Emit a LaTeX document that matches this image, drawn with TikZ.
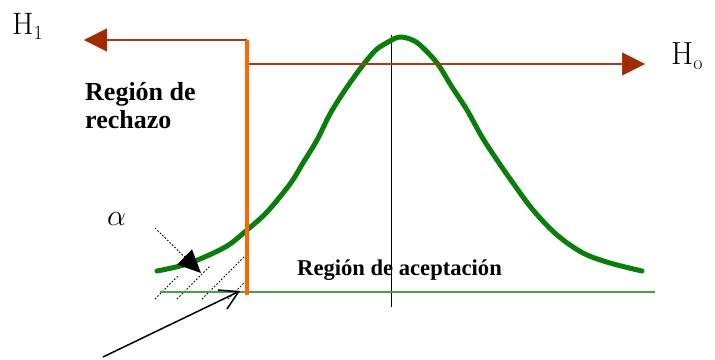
\documentclass[tikz,border=0pt]{standalone}
\usepackage{fontspec}
\newfontfamily\timesf{Liberation Serif}
\usetikzlibrary{arrows.meta}
\definecolor{hline}{RGB}{175,55,20}
\definecolor{hhead}{RGB}{160,45,0}
\definecolor{orangeln}{RGB}{255,102,0}
\definecolor{curvegreen}{RGB}{10,125,10}
\definecolor{basegreen}{RGB}{70,160,70}
\newcommand{\hsub}[2]{#1{\fontsize{20}{21}\selectfont\raisebox{-5pt}{#2}}}
\begin{document}
\begin{tikzpicture}[x=1pt,y=-1pt,
  hyp/.style={draw=hline, line width=1.3pt, -{Triangle[length=23pt,width=23pt,color=hhead,fill=hhead,line width=0.5pt]}},
  lbl/.style={inner sep=0pt, anchor=base west},
  boldlbl/.style={lbl, font=\timesf\bfseries},
  hatch/.style={line width=0.9pt, dash pattern=on 1.6pt off 1.8pt},
]
\useasboundingbox (0,0) rectangle (715,359);
% coordinates
\coordinate (top) at (247,40);
\coordinate (h1tip) at (84,40);
\coordinate (hostart) at (247,64);
\coordinate (hotip) at (645,64);
\coordinate (bot) at (247,295);
\coordinate (axtop) at (391,35);
\coordinate (axbot) at (391,307);
\coordinate (bl) at (160,292);
\coordinate (br) at (655,292);
\coordinate (astart) at (155,228);
\coordinate (atip) at (201,273);
\coordinate (lstart) at (103,357);
\coordinate (ltip) at (240,291);
% hatching
\draw[hatch] (155,299) -- (179,275);
\draw[hatch] (177,299) -- (210,266);
\draw[hatch] (202,299) -- (247,254);
\draw[hatch] (228,299) -- (247,280);
% axis and base line
\draw[black, line width=1pt] (axtop) -- (axbot);
\draw[basegreen, line width=1.5pt] (bl) -- (br);
% bell curve
\draw[curvegreen, line width=5pt, line cap=round, line join=round]
  plot[smooth, tension=0.55] coordinates {
  (157,271) (180,266) (200,259) (227,246) (247,230) (267,212) (290,184)
  (303,163) (317,140) (330,114) (343,93) (357,73) (367,60) (377,49)
  (390,41) (399,37) (410,39) (420,45) (437,63) (452,87) (467,110)
  (482,137) (497,160) (513,183) (533,210) (557,235) (583,253) (610,263) (642,271)};
% hypothesis arrows
\draw[hyp] (top) -- (h1tip);
\draw[hyp] (hostart) -- (hotip);
\draw[orangeln, line width=3.5pt] (top) -- (bot);
% alpha arrow
\draw[hatch, -{Triangle[length=23pt,width=21pt]}] (astart) -- (atip);
% long arrow
\draw[line width=1.5pt, -{Straight Barb[length=18pt,width=21pt]}] (lstart) -- (ltip);
% labels
\node[lbl, font=\fontsize{31}{33}\selectfont] (h1) at (12,34) {\hsub{H}{1}};
\node[lbl, font=\fontsize{32}{34}\selectfont] (ho) at (671,64) {\hsub{H}{o}};
\node[lbl] (alpha) at (107,225) {\scalebox{1.45}{\fontsize{20}{22}\selectfont$\alpha$}};
\node[boldlbl, font=\timesf\bfseries\fontsize{26}{28}\selectfont] (rr1) at (85,100) {Región de};
\node[boldlbl, font=\timesf\bfseries\fontsize{26}{28}\selectfont] (rr2) at (85,128) {rechazo};
\node[boldlbl, font=\timesf\bfseries\fontsize{22.6}{24}\selectfont] (ra) at (297,275) {Región de aceptación};
\end{tikzpicture}
\end{document}
